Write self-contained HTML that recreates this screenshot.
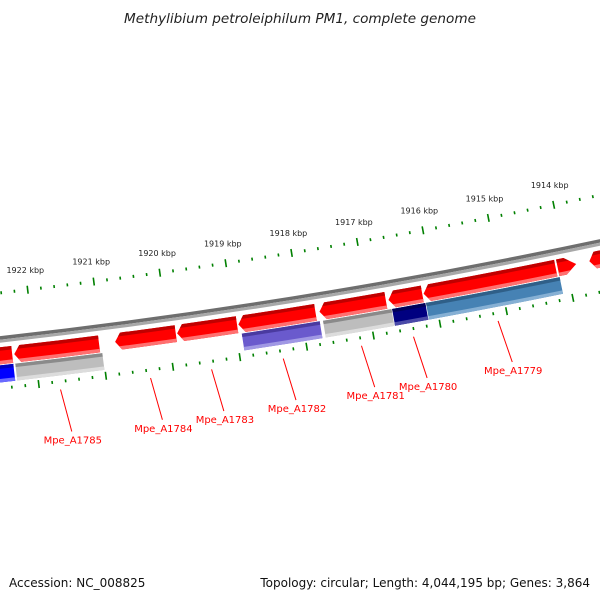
<!DOCTYPE html>
<html><head><meta charset="utf-8">
<style>
html,body{margin:0;padding:0;background:#fff;}
svg{display:block;font-family:"DejaVu Sans","Liberation Sans",sans-serif;}
</style></head>
<body>
<svg id="chart" width="600" height="600" viewBox="0 0 600 600" xmlns="http://www.w3.org/2000/svg">
<rect width="600" height="600" fill="#fff"/>
<text x="300" y="23" text-anchor="middle" font-size="13.6" font-style="italic" fill="#222">Methylibium petroleiphilum PM1, complete genome</text>
<text x="9" y="587" font-size="12" fill="#111">Accession: NC_008825</text>
<text x="590" y="587" font-size="12" text-anchor="end" fill="#111">Topology: circular; Length: 4,044,195 bp; Genes: 3,864</text>
<g id="plot"></g>
</svg>
<script>
// data (kbp)
const tickMajorKbp = [1923,1922,1921,1920,1919,1918,1917,1916,1915,1914,1913,1912];
const tickLabels = ["","1922 kbp","1921 kbp","1920 kbp","1919 kbp","1918 kbp","1917 kbp","1916 kbp","1915 kbp","1914 kbp","",""];
const redStarts = [1923.6,1922.31,1920.80,1919.87,1918.95,1917.73,1916.69,1916.16,1913.85,1913.65];
const redEnds   = [1922.34,1921.04,1919.89,1918.97,1917.79,1916.73,1916.18,1914.16,1914.13,1912.9];
const redArrow  = [false,true,true,true,true,true,true,true,true,true];
const row2Starts = [1923.6,1922.31,1918.92,1917.70,1916.66,1916.15];
const row2Ends   = [1922.34,1921.01,1917.75,1916.67,1916.16,1914.13];
const row2Colors = ["blue","gray","purple","gray","navy","steel"];
const geneLabels = ["Mpe_A1785","Mpe_A1784","Mpe_A1783","Mpe_A1782","Mpe_A1781","Mpe_A1780","Mpe_A1779"];
const geneMid    = [1921.69,1920.35,1919.44,1918.37,1917.20,1916.42,1915.15];

const cx=-695, cy=-5862;
const NS="http://www.w3.org/2000/svg";
const plot=document.getElementById('plot');
function ang(k){return (83.30+(k-1922)*0.6163)*Math.PI/180;}
function P(k,r){const a=ang(k);return [cx+r*Math.cos(a), cy+r*Math.sin(a)];}
function f(p){return p[0].toFixed(2)+","+p[1].toFixed(2);}
function mk(tag,attrs,parent){const e=document.createElementNS(NS,tag);for(const k in attrs)e.setAttribute(k,attrs[k]);(parent||plot).appendChild(e);return e;}
function band(kA,kB,r0,r1){
  return "M"+f(P(kA,r0))+" A"+r0+" "+r0+" 0 0 0 "+f(P(kB,r0))+" L"+f(P(kB,r1))+" A"+r1+" "+r1+" 0 0 1 "+f(P(kA,r1))+" Z";
}
function arrow(kA,kB,r0,r1){
  const h=Math.min(0.09,(kA-kB)*0.6);
  const rm=(r0+r1)/2;
  return "M"+f(P(kA,rm))+" L"+f(P(kA-h,r0))+" A"+r0+" "+r0+" 0 0 0 "+f(P(kB,r0))+" L"+f(P(kB,r1))+" A"+r1+" "+r1+" 0 0 1 "+f(P(kA-h,r1))+" Z";
}
const pal={red:["#ff0000","#c00000","#ff7070"],gray:["#bdbdbd","#8a8a8a","#dcdcdc"],purple:["#6a5acd","#4a3aa0","#a098e4"],navy:["#000080","#00005a","#4a4aa8"],steel:["#4682b4","#2f5f88","#86b0d4"],blue:["#0000ff","#0000c0","#6a6aff"]};
let cid=0;
function feature(d,r0,r1,col,name){
  const g=mk('g',{});
  
  
  const id='c'+(cid++);
  const cp=mk('clipPath',{id:id},g);
  mk('path',{d:d},cp);
  const c=pal[col];
  mk('path',{d:d,fill:c[0]},g);
  const gg=mk('g',{'clip-path':'url(#'+id+')'},g);
  mk('path',{d:band(1930,1905,r0-1,r0+3.5),fill:c[1]},gg);
  mk('path',{d:band(1930,1905,r1-3.5,r1+1),fill:c[2]},gg);
}
// backbone
const bb=mk('g',{});


mk('path',{d:band(1930,1905,6237,6240.5),fill:'#6e6e6e'},bb);
mk('path',{d:band(1930,1905,6240.5,6243.5),fill:'#a8a8a8'},bb);
// tick rings
function ticks(r,labels,nameBase){
  const g=mk('g',{});
  
  
  for(let i=0;i<tickMajorKbp.length;i++){
    const k=tickMajorKbp[i];
    const a=P(k,r-4),b=P(k,r+4);
    const t=mk('line',{x1:a[0],y1:a[1],x2:b[0],y2:b[1],stroke:'#008000','stroke-width':1.6},g);
    
    
    for(let j=1;j<5;j++){
      const km=k-j*0.2;
      const c=P(km,r-1.5),d=P(km,r+1.5);
      const m=mk('line',{x1:c[0],y1:c[1],x2:d[0],y2:d[1],stroke:'#008000','stroke-width':1.6},g);
      
      
    }
    if(labels && tickLabels[i]){
      const p=P(k,r-20);
      const tx=mk('text',{x:p[0].toFixed(1),y:(p[1]+3).toFixed(1),'text-anchor':'middle','font-size':8,fill:'#222'},g);
      tx.textContent=tickLabels[i];
      
      
    }
  }
}
ticks(6194,true,'outer-scale');
ticks(6289,false,'inner-scale');
// red row
for(let i=0;i<redStarts.length;i++){
  const d=redArrow[i]?arrow(redStarts[i],redEnds[i],6248,6265):band(redStarts[i],redEnds[i],6248,6265);
  feature(d,6248,6265,'red','gene-feature');
}
// second row
for(let i=0;i<row2Starts.length;i++){
  feature(band(row2Starts[i],row2Ends[i],6266,6283),6266,6283,row2Colors[i],'cds-feature');
}
// gene labels
for(let i=0;i<geneLabels.length;i++){
  const a=P(geneMid[i],6297),b=P(geneMid[i]-0.09,6340);
  const l=mk('line',{x1:a[0],y1:a[1],x2:b[0],y2:b[1],stroke:'#ff0000','stroke-width':1});
  
  
  const t=mk('text',{x:(b[0]+1).toFixed(1),y:(b[1]+12).toFixed(1),'text-anchor':'middle','font-size':10,fill:'#ff0000'});
  t.textContent=geneLabels[i];
  
  
}
</script>
</body></html>
